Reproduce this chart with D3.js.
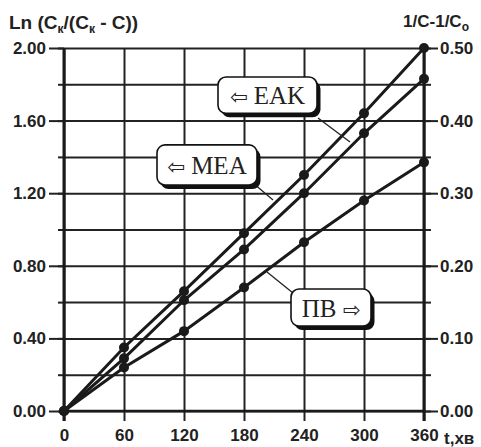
<!DOCTYPE html>
<html>
<head>
<meta charset="utf-8">
<script src="https://cdn.jsdelivr.net/npm/d3@7"></script>
<style>
  body { margin: 0; background: #fff; }
  #chart { width: 481px; height: 447px; }
  text { font-family: "Liberation Sans", Arial, sans-serif; font-weight: bold; fill: #222; }
  .axis path { display: none; }
  .axis line { stroke: #222; stroke-width: 2; }
  .axis text { font-size: 17px; }
  .callout text { font-family: "Liberation Serif", "Times New Roman", serif; font-weight: normal; font-size: 25px; fill: #222; }
</style>
</head>
<body>
<div id="chart"></div>
<script>
// time, minutes
const times = [0, 60, 120, 180, 240, 300, 360];
// Ln(Ck/(Ck - C)) per series
const eak = [0, 0.35, 0.66, 0.98, 1.30, 1.64, 2.00];
const mea = [0, 0.29, 0.61, 0.89, 1.20, 1.53, 1.83];
const pv  = [0, 0.24, 0.44, 0.68, 0.93, 1.16, 1.37];

const gridValues  = [0, 0.2, 0.4, 0.6, 0.8, 1.0, 1.2, 1.4, 1.6, 1.8, 2.0];
const leftLabels  = [0, 0.4, 0.8, 1.2, 1.6, 2.0];
const rightMinor  = [0, 0.05, 0.1, 0.15, 0.2, 0.25, 0.3, 0.35, 0.4, 0.45, 0.5];
const rightLabels = [0, 0.1, 0.2, 0.3, 0.4, 0.5];

const series = [
    {name: "EAK", values: eak},
    {name: "MEA", values: mea},
    {name: "PV",  values: pv}
];

const width = 481, height = 447;
const margin = {top: 48, left: 64, right: 57, bottom: 36};

const svg = d3.select("#chart")
    .append("svg")
    .attr("width", width)
    .attr("height", height);

/* SCALES */
const x = d3.scaleLinear().domain([0, 360]).range([margin.left, width - margin.right]);
const y = d3.scaleLinear().domain([0, 2]).range([height - margin.bottom, margin.top]);
const yR = d3.scaleLinear().domain([0, 0.5]).range([height - margin.bottom, margin.top]);

/* GRID */
svg.append("g")
    .attr("class", "axis")
    .attr("transform", `translate(${margin.left},0)`)
    .call(d3.axisLeft(y).tickValues(gridValues).tickSize(-(x(360) - x(0))).tickFormat(""));

svg.append("g")
    .attr("class", "axis")
    .attr("transform", `translate(0,${y(0)})`)
    .call(d3.axisBottom(x).tickValues(times).tickSize(-(y(0) - y(2))).tickFormat(""));

/* AXES */
svg.append("g")
    .attr("class", "axis")
    .attr("transform", `translate(${margin.left},0)`)
    .call(d3.axisLeft(y).tickValues(gridValues).tickSize(6).tickFormat(""));

svg.append("g")
    .attr("class", "axis")
    .attr("transform", `translate(${margin.left},0)`)
    .call(d3.axisLeft(y).tickValues(leftLabels).tickSize(15).tickPadding(3).tickFormat(d3.format(".2f")));

svg.append("g")
    .attr("class", "axis")
    .attr("transform", `translate(${x(360)},0)`)
    .call(d3.axisRight(yR).tickValues(rightMinor).tickSize(7).tickFormat(""));

svg.append("g")
    .attr("class", "axis")
    .attr("transform", `translate(${x(360)},0)`)
    .call(d3.axisRight(yR).tickValues(rightLabels).tickSize(14).tickPadding(2).tickFormat(d3.format(".2f")));

svg.append("g")
    .attr("class", "axis")
    .attr("transform", `translate(0,${y(0)})`)
    .call(d3.axisBottom(x).tickValues(times).tickSize(10).tickPadding(8));

// thick axis lines
svg.append("line")
    .attr("x1", x(0)).attr("x2", x(0)).attr("y1", y(2)).attr("y2", y(0) + 10)
    .attr("stroke", "#1a1a1a").attr("stroke-width", 3);
svg.append("line")
    .attr("x1", x(360)).attr("x2", x(360)).attr("y1", y(2)).attr("y2", y(0) + 10)
    .attr("stroke", "#1a1a1a").attr("stroke-width", 3);
svg.append("line")
    .attr("x1", x(0)).attr("x2", x(360)).attr("y1", y(0)).attr("y2", y(0))
    .attr("stroke", "#1a1a1a").attr("stroke-width", 2.5);

/* AXIS TITLES */
const leftTitle = svg.append("text").attr("x", 9).attr("y", 29).style("font-size", "19px");
leftTitle.append("tspan").text("Ln (C");
leftTitle.append("tspan").attr("dy", 4).style("font-size", "12px").text("к");
leftTitle.append("tspan").attr("dy", -4).text("/(C");
leftTitle.append("tspan").attr("dy", 4).style("font-size", "12px").text("к");
leftTitle.append("tspan").attr("dy", -4).text(" - C))");

const rightTitle = svg.append("text").attr("x", 469).attr("y", 27)
    .attr("text-anchor", "end").style("font-size", "17px");
rightTitle.append("tspan").text("1/C-1/C");
rightTitle.append("tspan").attr("dy", 4).style("font-size", "12px").text("o");

svg.append("text")
    .attr("x", 444).attr("y", 444)
    .style("font-size", "17px")
    .text("t,хв");

/* LINES + POINTS */
const line = d3.line()
    .x(function(d, i) { return x(times[i]); })
    .y(function(d) { return y(d); });

series.forEach(function(s) {
    svg.append("path")
        .datum(s.values)
        .attr("d", line)
        .attr("fill", "none")
        .attr("stroke", "#1a1a1a")
        .attr("stroke-width", 3);

    svg.selectAll(null)
        .data(s.values)
        .enter()
        .append("circle")
        .attr("cx", function(d, i) { return x(times[i]); })
        .attr("cy", function(d) { return y(d); })
        .attr("r", 5)
        .attr("fill", "#1a1a1a");
});

/* CALLOUTS (placed in data coords) */
const callouts = [
    {arrow: "⇦", label: "EAK", left: true,  t0: 154, t1: 253, v0: 1.84, v1: 1.64, lead: [[254, 1.614], [286, 1.482]]},
    {arrow: "⇦", label: "MEA", left: true,  t0: 93,  t1: 193, v0: 1.466, v1: 1.245, lead: [[189, 1.256], [209, 1.163]]},
    {arrow: "⇨", label: "ПВ",  left: false, t0: 227, t1: 307, v0: 0.672, v1: 0.468, lead: [[203, 0.766], [229, 0.650]]}
];

callouts.forEach(function(c) {
    const g = svg.append("g").attr("class", "callout");
    g.append("line")
        .attr("x1", x(c.lead[0][0])).attr("y1", y(c.lead[0][1]))
        .attr("x2", x(c.lead[1][0])).attr("y2", y(c.lead[1][1]))
        .attr("stroke", "#222").attr("stroke-width", 1.3);
    const bx = x(c.t0), by = y(c.v0), bw = x(c.t1) - x(c.t0), bh = y(c.v1) - y(c.v0);
    g.append("rect")
        .attr("x", bx + 3.5).attr("y", by + 4).attr("width", bw).attr("height", bh)
        .attr("rx", 8).attr("fill", "#111");
    g.append("rect")
        .attr("x", bx).attr("y", by).attr("width", bw).attr("height", bh)
        .attr("rx", 8).attr("fill", "#fff").attr("stroke", "#111").attr("stroke-width", 1.6);
    const t = g.append("text")
        .attr("x", bx + bw / 2).attr("y", by + bh / 2 + 9)
        .attr("text-anchor", "middle");
    if (c.left) {
        t.append("tspan").style("font-family", "DejaVu Sans").style("font-size", "21px").text(c.arrow);
        t.append("tspan").text(" " + c.label);
    } else {
        t.append("tspan").text(c.label + " ");
        t.append("tspan").style("font-family", "DejaVu Sans").style("font-size", "21px").text(c.arrow);
    }
});
</script>
</body>
</html>
